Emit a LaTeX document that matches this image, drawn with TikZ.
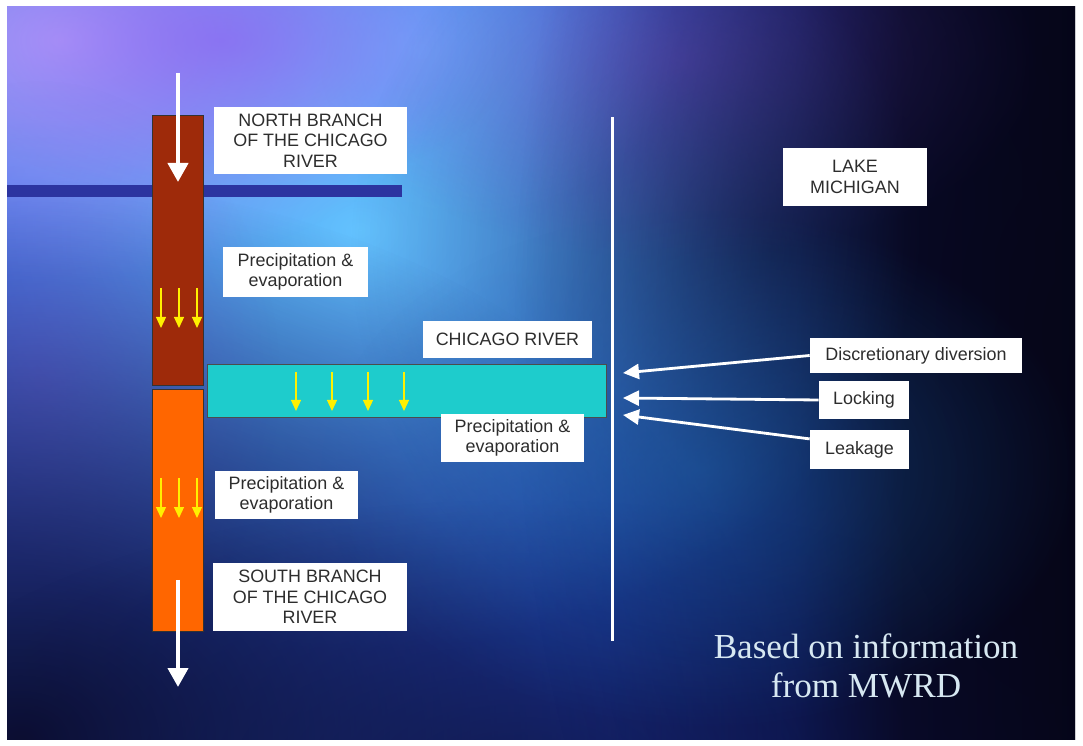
\documentclass[tikz,border=0pt]{standalone}
\usepackage{fontspec}
\setmainfont{Liberation Serif}
\setsansfont{Liberation Sans}
\usetikzlibrary{arrows.meta, positioning, fadings}

\definecolor{rivbrown}{RGB}{158, 42, 10}
\definecolor{rivorange}{RGB}{255, 102, 0}
\definecolor{rivcyan}{RGB}{30, 204, 204}
\definecolor{barblue}{RGB}{44, 52, 160}
\definecolor{txtgray}{RGB}{45, 45, 45}
\definecolor{notecol}{RGB}{215, 232, 242}
\definecolor{rainyel}{RGB}{255, 240, 0}
\definecolor{glowcyan}{RGB}{100, 195, 255}
\definecolor{glowlav}{RGB}{175, 160, 250}
\definecolor{glowviol}{RGB}{140, 90, 240}
\definecolor{deepnavy}{RGB}{12, 14, 50}
\definecolor{tealblue}{RGB}{30, 110, 180}
\definecolor{nightsky}{RGB}{6, 6, 24}

\pgfdeclarehorizontalshading{bgshade}{100bp}{rgb(0bp)=(0.18,0.37,0.88); rgb(25bp)=(0.18,0.37,0.88); rgb(40bp)=(0.17,0.33,0.84); rgb(53bp)=(0.13,0.26,0.75); rgb(62bp)=(0.08,0.15,0.5); rgb(67bp)=(0.04,0.05,0.2); rgb(75bp)=(0.02,0.02,0.1); rgb(100bp)=(0.02,0.02,0.1)}
\tikzfading[name=glow, inner color=transparent!0, outer color=transparent!100]

\begin{document}
\begin{tikzpicture}[x=0.02cm, y=-0.02cm,
    lbl/.style={fill=white, inner sep=0pt, align=center, text=txtgray,
      font=\sffamily\fontsize{10.2}{11.6}\selectfont},
    bigarr/.style={-{Triangle[length=0.38cm, width=0.4cm]}, line width=2.4pt, white},
    inarr/.style={-{Triangle[length=0.32cm, width=0.3cm]}, line width=1.6pt, white},
    rain/.style={-{Triangle[length=0.22cm, width=0.2cm]}, line width=0.7pt, rainyel}
  ]
    \useasboundingbox (0,0) rectangle (1083,746);
    \fill[white] (0,0) rectangle (1083,746);

    % Background
    \begin{scope}
      \clip (7,7) rectangle (1075,740);
      \shade[shading=bgshade] (7,7) rectangle (1075,740);
      \fill[glowcyan, path fading=glow] (360,230) ellipse (560 and 420);
      \fill[glowcyan, path fading=glow, opacity=0.9] (420,50) ellipse (260 and 180);
      \fill[glowlav, path fading=glow] (60,40) ellipse (400 and 240);
      \fill[glowviol, path fading=glow, opacity=0.55] (680,60) ellipse (360 and 200);
      \fill[glowviol, path fading=glow, opacity=0.6] (220,40) ellipse (300 and 160);
      \fill[glowviol, path fading=glow, opacity=0.4] (40,380) ellipse (240 and 300);
      \fill[deepnavy, path fading=glow, opacity=0.45] (770,250) ellipse (420 and 420);
      \fill[deepnavy, path fading=glow] (20,740) ellipse (760 and 560);
      \fill[deepnavy, path fading=glow, opacity=0.6] (520,760) ellipse (640 and 260);
      \fill[nightsky, path fading=glow, opacity=0.8] (1075,330) ellipse (560 and 1000);
      \fill[tealblue, path fading=glow, opacity=0.45] (700,470) ellipse (380 and 260);
    \end{scope}

    % Rivers
    \node[fill=barblue, minimum width=7.9cm, minimum height=0.24cm,
          inner sep=0pt] (bar) at (204.5,191) {};
    \node[draw=black!80, fill=rivbrown, minimum width=1.02cm,
          minimum height=5.4cm, inner sep=0pt] (north) at (177.5,250) {};
    \node[draw=black!80, fill=rivorange, minimum width=1.02cm,
          minimum height=4.84cm, inner sep=0pt] (south) at (177.5,510) {};
    \node[draw=black!70, fill=rivcyan, minimum width=7.98cm,
          minimum height=1.06cm, inner sep=0pt] (river) at (406.5,390.5) {};
    \node[fill=white, minimum width=0.06cm, minimum height=10.48cm,
          inner sep=0pt] (shore) at (612.5,379) {};

    % Precipitation
    \foreach \x in {161,179,197}{
      \draw[rain] (\x,288) -- (\x,328);
      \draw[rain] (\x,478) -- (\x,518);
    }
    \foreach \x in {296,332,368,404}{
      \draw[rain] (\x,372) -- (\x,411);
    }

    % Flow
    \coordinate (ntop) at (178,73);
    \coordinate (nend) at (178,182);
    \coordinate (stop) at (178,580);
    \coordinate (send) at (178,687);
    \draw[bigarr] (ntop) -- (nend);
    \draw[bigarr] (stop) -- (send);

    % Labels
    \node[lbl, minimum width=3.86cm, minimum height=1.34cm] (nlbl) at (310.5,140.5)
      {NORTH BRANCH\\OF THE CHICAGO\\RIVER};
    \node[lbl, minimum width=2.9cm, minimum height=1.0cm] (pe1) at (295.5,272)
      {Precipitation \&\\evaporation};
    \node[lbl, minimum width=3.38cm, minimum height=0.74cm] (rlbl) at (507.5,339.5)
      {CHICAGO RIVER};
    \node[lbl, minimum width=2.86cm, minimum height=0.96cm] (pe2) at (512.5,438)
      {Precipitation \&\\evaporation};
    \node[lbl, minimum width=2.86cm, minimum height=0.96cm] (pe3) at (286.5,495)
      {Precipitation \&\\evaporation};
    \node[lbl, minimum width=3.88cm, minimum height=1.36cm] (slbl) at (310,597)
      {SOUTH BRANCH\\OF THE CHICAGO\\RIVER};
    \node[lbl, minimum width=2.88cm, minimum height=1.16cm] (lake) at (855,177)
      {LAKE\\MICHIGAN};
    \node[lbl, minimum width=4.24cm, minimum height=0.7cm] (disc) at (916,355.5)
      {Discretionary diversion};
    \node[lbl, minimum width=1.8cm, minimum height=0.76cm] (lock) at (864,400)
      {Locking};
    \node[lbl, minimum width=1.98cm, minimum height=0.78cm] (leak) at (859.5,449.5)
      {Leakage};

    % Inflows
    \coordinate (disctip) at (623,373);
    \coordinate (locktip) at (623,398);
    \coordinate (leaktip) at (623,415);
    \draw[inarr] (disc.west) -- (disctip);
    \draw[inarr] (lock.west) -- (locktip);
    \draw[inarr] (leak.168) -- (leaktip);

    % Source
    \node[text=notecol, align=center, font=\rmfamily\fontsize{20}{22}\selectfont]
      (src) at (866,666) {Based on information\\from MWRD};
\end{tikzpicture}
\end{document}
